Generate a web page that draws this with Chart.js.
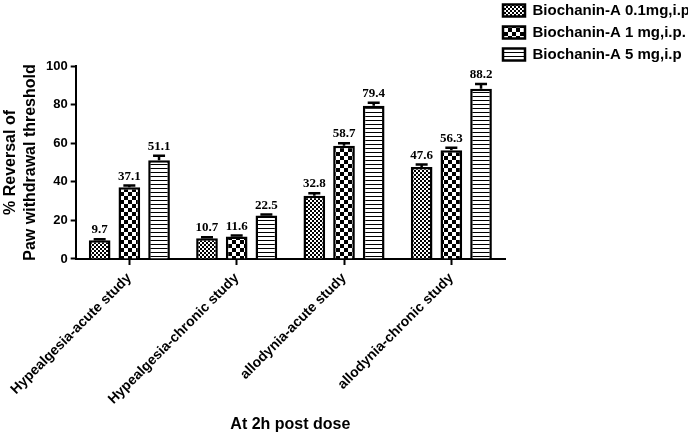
<!DOCTYPE html>
<html>
<head>
<meta charset="utf-8">
<script src="https://cdn.jsdelivr.net/npm/chart.js@4.4.1/dist/chart.umd.min.js"></script>
<style>
  html, body { margin: 0; padding: 0; background: #fff; }
  #wrap { width: 697px; height: 434px; position: relative; }
</style>
</head>
<body>
<div id="wrap"><canvas id="chart"></canvas></div>
<script>
// categories and values
const studies = ['Hypealgesia-acute study', 'Hypealgesia-chronic study', 'allodynia-acute study', 'allodynia-chronic study'];
const seriesNames = ['Biochanin-A 0.1mg,i.p', 'Biochanin-A 1 mg,i.p.', 'Biochanin-A 5 mg,i.p'];
const dose01 = [9.7, 10.7, 32.8, 47.6];
const dose1 = [37.1, 11.6, 58.7, 56.3];
const dose5 = [51.1, 22.5, 79.4, 88.2];
// SEM (upper whisker only visible)
const err01 = [0.5, 0.5, 1.3, 1.3];
const err1 = [0.9, 0.5, 1.3, 1.3];
const err5 = [2.4, 0.5, 1.6, 2.5];
const yTicks = [0, 20, 40, 60, 80, 100];

const SANS = '"Liberation Sans", Arial, sans-serif';
const SERIF = '"Liberation Serif", "Times New Roman", serif';

Chart.defaults.color = '#000';
Chart.defaults.font.family = SANS;

function makePattern(kind) {
  const c = document.createElement('canvas');
  const p = c.getContext('2d');
  if (kind === 'fine') {
    c.width = c.height = 4;
    p.fillStyle = '#fff'; p.fillRect(0, 0, 4, 4);
    p.fillStyle = '#000';
    p.fillRect(0, 0, 2, 2); p.fillRect(2, 2, 2, 2);
  } else if (kind === 'checker') {
    c.width = c.height = 8;
    p.fillStyle = '#fff'; p.fillRect(0, 0, 8, 8);
    p.fillStyle = '#000';
    p.fillRect(0, 0, 4, 4); p.fillRect(4, 4, 4, 4);
  } else {
    c.width = c.height = 4;
    p.fillStyle = '#fff'; p.fillRect(0, 0, 4, 4);
    p.fillStyle = '#000'; p.fillRect(0, 0, 4, 1);
  }
  return p.createPattern(c, 'repeat');
}

// whiskers + value labels on top of each bar
const errorBars = {
  id: 'errorBars',
  afterDatasetsDraw(chart) {
    const { ctx } = chart;
    const y = chart.scales.y;
    ctx.save();
    ctx.strokeStyle = '#000';
    ctx.lineWidth = 2.5;
    ctx.fillStyle = '#000';
    ctx.font = 'bold 13px ' + SERIF;
    ctx.textAlign = 'center';
    ctx.textBaseline = 'alphabetic';
    chart.data.datasets.forEach((ds, i) => {
      chart.getDatasetMeta(i).data.forEach((bar, j) => {
        const top = y.getPixelForValue(ds.data[j] + ds.errors[j]);
        ctx.beginPath();
        ctx.moveTo(bar.x, bar.y);
        ctx.lineTo(bar.x, top);
        ctx.moveTo(bar.x - 6, top);
        ctx.lineTo(bar.x + 6, top);
        ctx.stroke();
        ctx.fillText(ds.data[j].toFixed(1), bar.x, top - 6);
      });
    });
    ctx.restore();
  }
};

// legend sits a little over the plot's right edge in the original
const legendNudge = {
  id: 'legendNudge',
  afterLayout(chart) {
    const lg = chart.legend;
    lg.left -= 9; lg.right -= 9;
    lg.top -= 4; lg.bottom -= 4;
  }
};

const barStyle = {
  borderColor: '#000',
  borderWidth: 2.5,
  categoryPercentage: 0.83,
  barPercentage: 0.73
};

new Chart(document.getElementById('chart'), {
  type: 'bar',
  data: {
    labels: studies,
    datasets: [
      { label: seriesNames[0], data: dose01, errors: err01, backgroundColor: makePattern('fine'), ...barStyle },
      { label: seriesNames[1], data: dose1, errors: err1, backgroundColor: makePattern('checker'), ...barStyle },
      { label: seriesNames[2], data: dose5, errors: err5, backgroundColor: makePattern('stripes'), ...barStyle }
    ]
  },
  options: {
    responsive: true,
    maintainAspectRatio: false,
    animation: false,
    layout: { padding: { left: 1, right: 0, top: 0, bottom: 0 } },
    plugins: {
      tooltip: { enabled: false },
      title: {
        display: true,
        text: '',
        font: { size: 10, lineHeight: 1 },
        padding: { top: 0, bottom: 56 }
      },
      legend: {
        position: 'right',
        align: 'start',
        maxWidth: 192,
        labels: {
          boxWidth: 22,
          boxHeight: 12,
          padding: 7,
          font: { size: 15, weight: 'bold', family: SANS }
        }
      }
    },
    scales: {
      x: {
        // 9px reserved under the axis, only the first 5px of the tick drawn
        grid: {
          display: true, drawOnChartArea: false, offset: false,
          tickLength: 9, tickWidth: 2, tickColor: '#000', tickBorderDash: [5, 30]
        },
        border: { color: '#000', width: 2 },
        ticks: {
          minRotation: 45,
          maxRotation: 45,
          padding: 2,
          font: { size: 14, weight: 'bold' }
        },
        title: {
          display: true,
          text: 'At 2h post dose',
          font: { size: 16, weight: 'bold' },
          padding: { top: 5, bottom: 0 }
        }
      },
      y: {
        min: 0,
        max: 100,
        afterBuildTicks: (axis) => { axis.ticks = yTicks.map(v => ({ value: v })); },
        grid: { drawOnChartArea: false, tickLength: 5, tickWidth: 2, tickColor: '#000' },
        border: { color: '#000', width: 2 },
        ticks: {
          padding: 3,
          font: { size: 13, weight: 'bold' }
        },
        title: {
          display: true,
          text: ['% Reversal of', 'Paw withdrawal threshold'],
          font: { size: 16, weight: 'bold', lineHeight: 1.25 },
          padding: { top: 0, bottom: 2 }
        }
      }
    }
  },
  plugins: [errorBars, legendNudge]
});
</script>
</body>
</html>
